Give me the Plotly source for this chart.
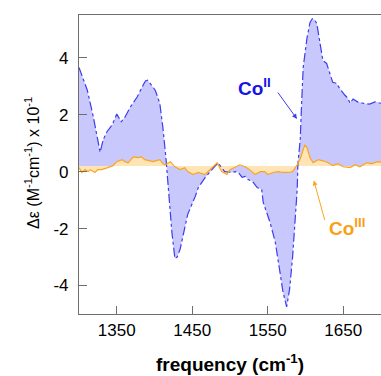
import plotly.graph_objects as go

# ---- data ----
freq_co2 = [1300, 1304, 1311, 1319, 1326, 1328, 1332, 1337, 1344, 1350, 1356, 1361, 1368, 1377,
            1385, 1388, 1391, 1396, 1401, 1407, 1411, 1415, 1418, 1423, 1427, 1430, 1434,
            1440, 1444, 1454, 1458, 1467, 1476, 1481, 1484, 1489, 1493, 1503, 1507, 1511,
            1516, 1520, 1524, 1530, 1536, 1542, 1544, 1553, 1560, 1566, 1570, 1575, 1579,
            1583, 1586, 1589, 1590, 1593, 1595, 1597, 1602, 1606, 1609, 1612, 1615, 1619,
            1623, 1628, 1632, 1636, 1641, 1645, 1652, 1656, 1659, 1663, 1669, 1676, 1685,
            1692, 1700]
de_co2 = [3.66, 3.39, 2.86, 1.92, 0.85, 0.68, 1.12, 1.40, 1.64, 2.02, 1.75, 1.92, 2.27, 2.62,
          3.04, 3.18, 3.21, 3.05, 2.86, 2.40, 1.57, 0.52, -0.52, -2.13, -3.05, -3.0, -2.72,
          -2.02, -1.50, -0.87, -0.56, -0.21, 0.07, 0.22, 0.31, 0.14, 0.0, -0.03, 0.0, -0.03,
          -0.20, -0.17, -0.28, -0.35, -0.56, -0.63, -1.08, -1.78, -2.48, -3.50, -4.20, -4.75, -4.12,
          -2.97, -1.78, -0.63, 0.30, 1.12, 2.50, 3.67, 4.70, 5.24, 5.37, 5.33, 5.20, 4.60,
          3.90, 3.80, 3.50, 3.14, 3.10, 2.93, 2.69, 2.58, 2.40, 2.55, 2.45, 2.40, 2.37,
          2.45, 2.40]

freq_co3 = [1300, 1304, 1308, 1312, 1315, 1319, 1321, 1325, 1330, 1338, 1345, 1350, 1357,
            1361, 1365, 1372, 1378, 1383, 1387, 1394, 1398, 1407, 1411, 1414, 1421, 1427,
            1434, 1440, 1444, 1451, 1458, 1467, 1471, 1477, 1483, 1489, 1496, 1500, 1507,
            1513, 1520, 1526, 1533, 1540, 1546, 1550, 1557, 1564, 1570, 1577, 1583, 1589,
            1593, 1597, 1599, 1602, 1606, 1610, 1617, 1623, 1630, 1636, 1643, 1650, 1659,
            1666, 1672, 1681, 1688, 1696, 1700]
de_co3 = [0.14, -0.03, 0.07, 0.0, 0.07, 0.0, -0.03, 0.07, 0.07, 0.14, 0.21, 0.35, 0.42,
          0.35, 0.31, 0.52, 0.49, 0.52, 0.42, 0.38, 0.35, 0.42, 0.28, 0.24, 0.35, 0.17,
          0.07, 0.14, 0.0, -0.10, -0.03, -0.10, 0.0, 0.14, 0.31, 0.0, -0.10, 0.07, 0.17,
          0.24, 0.17, 0.07, -0.10, 0.0, 0.0, -0.10, -0.03, 0.0, -0.03, -0.03, 0.0, 0.24,
          0.45, 0.80, 0.94, 0.84, 0.49, 0.31, 0.42, 0.38, 0.31, 0.21, 0.28, 0.17, 0.14,
          0.24, 0.17, 0.31, 0.28, 0.35, 0.33]

baseline = 0.2
x_range = [1300, 1700]
y_range = [-5, 5.5]
x_ticks = [1350, 1450, 1550, 1650]
y_ticks = [-4, -2, 0, 2, 4]
y_tick_text = ["-4", "-2", "0", "2", "4"]

BLUE = "rgb(60,60,240)"
BLUE_FILL = "rgb(200,200,252)"
ORANGE = "rgb(250,165,30)"
ORANGE_FILL = "rgb(255,228,182)"
GREY = "rgb(110,110,110)"
FONT = "Liberation Sans, Arial, sans-serif"

fig = go.Figure()
# blue fill
fig.add_trace(go.Scatter(x=x_range, y=[baseline, baseline], mode="lines",
                         line=dict(width=0), hoverinfo="skip", showlegend=False))
fig.add_trace(go.Scatter(x=freq_co2, y=de_co2, mode="lines", fill="tonexty",
                         fillcolor=BLUE_FILL, line=dict(width=0), showlegend=False))
# orange fill
fig.add_trace(go.Scatter(x=x_range, y=[baseline, baseline], mode="lines",
                         line=dict(width=0), hoverinfo="skip", showlegend=False))
fig.add_trace(go.Scatter(x=freq_co3, y=de_co3, mode="lines", fill="tonexty",
                         fillcolor=ORANGE_FILL, line=dict(width=0), showlegend=False))
# lines
fig.add_trace(go.Scatter(x=freq_co2, y=de_co2, mode="lines",
                         line=dict(color=BLUE, width=1.2, dash="dashdot"), showlegend=False))
fig.add_trace(go.Scatter(x=freq_co3, y=de_co3, mode="lines",
                         line=dict(color=ORANGE, width=1.2), showlegend=False))

# arrows
fig.add_annotation(x=1588.7, y=1.85, ax=1562, ay=2.83, axref="x", ayref="y",
                   xref="x", yref="y", text="", showarrow=True, arrowhead=2,
                   arrowsize=1, arrowwidth=1, arrowcolor=BLUE)
fig.add_annotation(x=1611, y=-0.31, ax=1626, ay=-1.75, axref="x", ayref="y",
                   xref="x", yref="y", text="", showarrow=True, arrowhead=2,
                   arrowsize=1, arrowwidth=1, arrowcolor=ORANGE)
fig.add_annotation(x=1533, y=2.97, xref="x", yref="y", showarrow=False,
                   text="<b>Co<sup>II</sup></b>", font=dict(size=19, color="rgb(20,20,230)", family=FONT))
fig.add_annotation(x=1655, y=-1.95, xref="x", yref="y", showarrow=False,
                   text="<b>Co<sup>III</sup></b>", font=dict(size=19, color="rgb(250,160,20)", family=FONT))

# axis titles
fig.add_annotation(x=0.5, y=-0.164, xref="paper", yref="paper", showarrow=False,
                   xanchor="center", yanchor="middle",
                   text="<b>frequency (cm<sup>-1</sup>)</b>", font=dict(size=19, color="black", family=FONT))
fig.add_annotation(x=-0.156, y=0.505, xref="paper", yref="paper", showarrow=False,
                   xanchor="center", yanchor="middle", textangle=-90,
                   text="Δε (M<sup>-1</sup>cm<sup>-1</sup>) x 10<sup>-1</sup>",
                   font=dict(size=16, color="black", family=FONT))

fig.update_xaxes(range=x_range, tickvals=x_ticks, ticks="inside", ticklen=8, tickwidth=1,
                 tickcolor=GREY, showline=True, linecolor=GREY, linewidth=1.2, mirror=True,
                 showgrid=False, zeroline=False, tickfont=dict(size=17, color="black", family=FONT))
fig.update_yaxes(range=y_range, tickvals=y_ticks, ticktext=y_tick_text, ticks="inside",
                 ticklen=8, tickwidth=1, tickcolor=GREY, showline=True, linecolor=GREY,
                 linewidth=1.2, mirror=False, showgrid=False, zeroline=False,
                 ticklabelstandoff=6, tickfont=dict(size=17, color="black", family=FONT))

fig.update_layout(width=381, height=376, margin=dict(l=79, r=0, t=15, b=62),
                  paper_bgcolor="white", plot_bgcolor="white", showlegend=False)

fig.write_html("out.html")
